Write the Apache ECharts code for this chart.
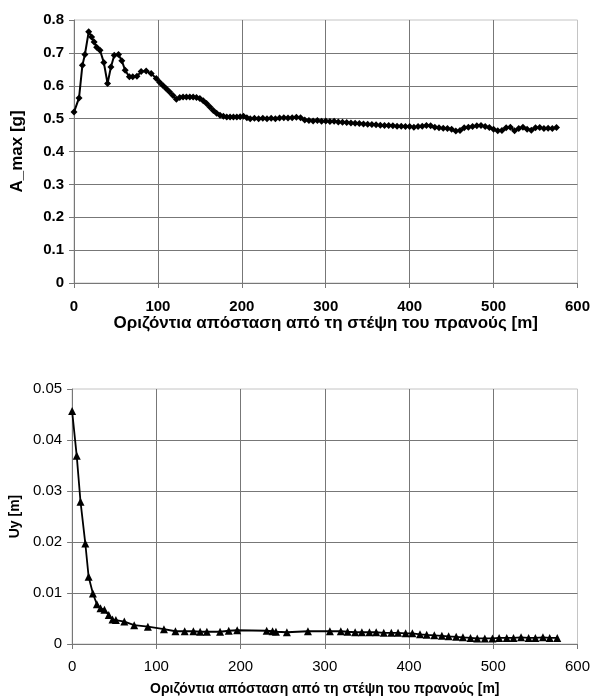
<!DOCTYPE html>
<html>
<head>
<meta charset="utf-8">
<script src="https://cdn.jsdelivr.net/npm/echarts@6/dist/echarts.min.js"></script>
<style>
  html, body { margin: 0; padding: 0; background: #fff; }
  #chart { width: 593px; height: 697px; }
</style>
</head>
<body>
<div id="chart"></div>
<script>
// top chart: A_max [g]
const distA = [0, 6, 10, 13, 17.5, 21, 24, 27, 31, 35.5, 40, 44, 48, 53, 57, 61, 66, 70, 75, 80,
  86, 92, 98, 102, 106, 110, 114, 118, 122, 126, 130, 134, 138, 142, 146, 150, 154, 158, 162, 166,
  170, 174, 178, 182, 186, 190, 194, 198, 202, 206, 210, 215, 220, 225, 230, 235, 240, 245, 250, 255,
  260, 265, 270, 275, 280, 285, 290, 295, 300, 305, 310, 315, 320, 325, 330, 335, 340, 345, 350, 355,
  360, 365, 370, 375, 380, 385, 390, 395, 400, 405, 410, 415, 420, 425, 430, 435, 440, 445, 450, 455,
  460, 465, 470, 475, 480, 485, 490, 495, 500, 505, 510, 515, 520, 525, 530, 535, 540, 545, 550, 555,
  560, 565, 570, 575];
const aMax = [0.520, 0.563, 0.662, 0.695, 0.764, 0.748, 0.733, 0.717, 0.708, 0.671, 0.607, 0.657, 0.693, 0.695, 0.676, 0.647, 0.627, 0.627, 0.629, 0.643,
  0.645, 0.637, 0.622, 0.611, 0.601, 0.591, 0.581, 0.570, 0.559, 0.564, 0.566, 0.566, 0.566, 0.566, 0.564, 0.561, 0.554, 0.546, 0.535, 0.525,
  0.516, 0.510, 0.507, 0.505, 0.505, 0.505, 0.505, 0.506, 0.507, 0.503, 0.500, 0.501, 0.500, 0.501, 0.500, 0.501, 0.500, 0.502, 0.503, 0.502,
  0.503, 0.504, 0.503, 0.496, 0.494, 0.493, 0.494, 0.492, 0.493, 0.491, 0.492, 0.490, 0.489, 0.488, 0.487, 0.486, 0.485, 0.484, 0.483, 0.482,
  0.481, 0.480, 0.479, 0.479, 0.478, 0.477, 0.477, 0.476, 0.476, 0.474, 0.476, 0.477, 0.479, 0.478, 0.474, 0.472, 0.471, 0.470, 0.468, 0.462,
  0.464, 0.472, 0.474, 0.476, 0.478, 0.479, 0.476, 0.473, 0.468, 0.463, 0.464, 0.472, 0.474, 0.463, 0.470, 0.474, 0.468, 0.465, 0.472, 0.473,
  0.470, 0.471, 0.470, 0.473];

// bottom chart: Uy [m]
const distU = [0, 5.5, 10, 15.7, 19.6, 24.7, 29.4, 33.7, 38.4, 43.5, 48, 52, 62, 73.7, 90, 109, 122.7, 133.7, 144, 152,
  160, 175.7, 186, 196, 231, 238, 242, 255, 280, 306, 319, 327, 336, 344, 353, 361, 370, 379, 387, 396,
  404, 413, 421, 430, 439, 447, 456, 464, 473, 481, 490, 499, 507, 516, 524, 533, 542, 550, 559, 567, 576];
const uy = [0.0457, 0.0369, 0.0279, 0.0197, 0.0132, 0.0099, 0.0078, 0.0070, 0.0067, 0.0057, 0.0048, 0.0047, 0.0044, 0.0037, 0.0034, 0.0029, 0.0025, 0.0025, 0.0025, 0.0024,
  0.0024, 0.0024, 0.0026, 0.0027, 0.0026, 0.0025, 0.0024, 0.0023, 0.0025, 0.0025, 0.0025, 0.0024, 0.0023, 0.0023, 0.0023, 0.0023, 0.0022, 0.0022, 0.0022, 0.0021,
  0.0021, 0.0019, 0.0018, 0.0017, 0.0016, 0.0015, 0.0014, 0.0013, 0.0012, 0.0011, 0.0011, 0.0011, 0.0012, 0.0012, 0.0012, 0.0013, 0.0012, 0.0012, 0.0013, 0.0012, 0.0012];

const xTitle = 'Οριζόντια απόσταση από τη στέψη του πρανούς [m]';
const font = '"Liberation Sans", Arial, sans-serif';

const pairs = (xs, ys) => xs.map((x, i) => [x, ys[i]]);

const gridLine = { show: true, showMaxLine: false, lineStyle: { color: '#777', width: 1 } };
const axisLine = { show: true, lineStyle: { color: '#777', width: 1 } };
const tick = { show: true, length: 5, lineStyle: { color: '#777' } };

const xAxisOpt = (gridIndex, label, title) => ({
    type: 'value',
    gridIndex: gridIndex,
    min: 0,
    max: 600,
    interval: 100,
    axisLine: axisLine,
    axisTick: tick,
    splitLine: gridLine,
    axisLabel: label,
    name: xTitle,
    nameLocation: 'middle',
    nameGap: title.gap,
    nameTextStyle: { fontFamily: font, fontWeight: 'bold', fontSize: title.size, color: '#000' }
});

const option = {
    animation: false,
    backgroundColor: '#fff',
    grid: [
        { left: 74, right: 14, top: 20, height: 263, show: true, borderColor: '#c4c4c4', borderWidth: 1 },
        { left: 69, right: 14, top: 389, height: 255, show: true, borderColor: '#c4c4c4', borderWidth: 1 }
    ],
    xAxis: [
        xAxisOpt(0, { fontFamily: font, fontWeight: 'bold', fontSize: 15, color: '#000', margin: 16 }, { gap: 30, size: 17 }),
        xAxisOpt(1, { fontFamily: font, fontSize: 15, color: '#000', margin: 15 }, { gap: 38, size: 14 })
    ],
    yAxis: [
        {
            type: 'value',
            gridIndex: 0,
            min: 0,
            max: 0.8,
            interval: 0.1,
            axisLine: axisLine,
            axisTick: tick,
            splitLine: gridLine,
            axisLabel: { fontFamily: font, fontWeight: 'bold', fontSize: 15, color: '#000', margin: 10 },
            name: 'A_max [g]',
            nameLocation: 'middle',
            nameGap: 48,
            nameTextStyle: { fontFamily: font, fontWeight: 'bold', fontSize: 17, color: '#000' }
        },
        {
            type: 'value',
            gridIndex: 1,
            min: 0,
            max: 0.05,
            interval: 0.01,
            axisLine: axisLine,
            axisTick: tick,
            splitLine: gridLine,
            axisLabel: { fontFamily: font, fontSize: 15, color: '#000', margin: 10 },
            name: 'Uy [m]',
            nameLocation: 'middle',
            nameGap: 48,
            nameTextStyle: { fontFamily: font, fontWeight: 'bold', fontSize: 14, color: '#000' }
        }
    ],
    series: [
        {
            type: 'line',
            xAxisIndex: 0,
            yAxisIndex: 0,
            data: pairs(distA, aMax),
            symbol: 'diamond',
            symbolSize: 7,
            lineStyle: { color: '#000', width: 2 },
            itemStyle: { color: '#000' }
        },
        {
            type: 'line',
            xAxisIndex: 1,
            yAxisIndex: 1,
            data: pairs(distU, uy),
            symbol: 'triangle',
            symbolSize: 8,
            lineStyle: { color: '#000', width: 1.8 },
            itemStyle: { color: '#000' }
        }
    ]
};

const chart = echarts.init(document.getElementById('chart'));
chart.setOption(option);
</script>
</body>
</html>
